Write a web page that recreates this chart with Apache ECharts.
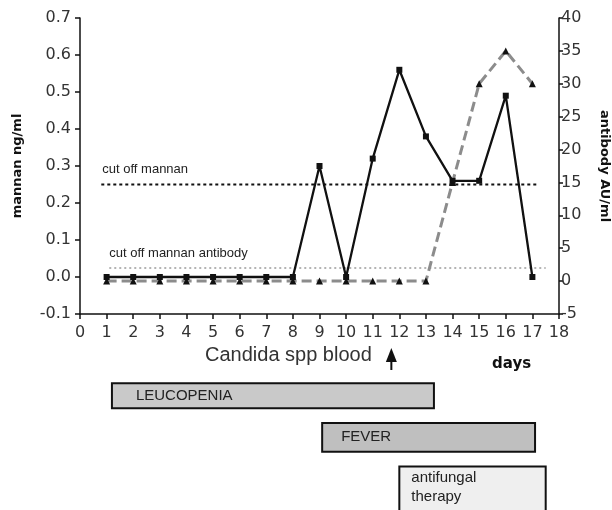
<!DOCTYPE html>
<html><head><meta charset="utf-8">
<script src="https://cdn.jsdelivr.net/npm/echarts@6/dist/echarts.min.js"></script>
<style>html,body{margin:0;padding:0;background:#fff}#c{width:612px;height:510px}</style>
</head><body><div id="c"></div>
<script>
// ---- data ----
var days = [1,2,3,4,5,6,7,8,9,10,11,12,13,14,15,16,17];
var mannan = [0,0,0,0,0,0,0,0,0.30,0.0,0.32,0.56,0.38,0.26,0.26,0.49,0.0];
var antibody = [0,0,0,0,0,0,0,0,0,0,0,0,0,15,30,35,30];
var cutoffMannan = 0.25;
var cutoffMannanSpan = [0.8, 17.2];
var cutoffAntibody = 2;
var cutoffAntibodySpan = [1.1, 17.5];
var bloodCultureDay = 11.7;
var periods = ['LEUCOPENIA', 'FEVER', 'antifungal\ntherapy'];
var periodStart = [1.2, 9.1, 12.0];
var periodEnd = [13.3, 17.1, 17.5];

// ---- styles ----
var FONT = 'Liberation Sans';
var TICKFONT = 'DejaVu Sans';
var BOLD = 'DejaVu Sans';
var rowHalfTop = [0.3, 0.345, 0.3];
var rowHalfBottom = [0.3, 0.345, 1.0];
var periodFill = ['#c9c9c9', '#bfbfbf', '#efefef'];
var textPad = [24, 19, 12];

var chart = echarts.init(document.getElementById('c'), null, {renderer: 'canvas'});

function pair(xs, ys){ return xs.map(function(x, i){ return [x, ys[i]]; }); }

function cutLabel(txt, off){
  return {show: true, position: 'top', align: 'left', offset: off,
          formatter: txt, fontFamily: FONT, fontSize: 13, color: '#222'};
}

var option = {
  animation: false,
  backgroundColor: '#ffffff',
  title: [
    {text: 'Candida spp blood', left: 205, top: 345, padding: 0,
     textStyle: {fontFamily: FONT, fontSize: 20, fontWeight: 'normal', color: '#333'}},
    {text: 'days', left: 492, top: 357, padding: 0,
     textStyle: {fontFamily: BOLD, fontSize: 15, fontWeight: 'bold', color: '#111'}}
  ],
  grid: [
    {left: 80, right: 53, top: 18, bottom: 196, outerBoundsMode: 'none', containLabel: false},
    {left: 80, right: 53, top: 375, bottom: 0, outerBoundsMode: 'none', containLabel: false}
  ],
  xAxis: [
    {type: 'value', gridIndex: 0, min: 0, max: 18, interval: 1,
     axisLine: {onZero: false, lineStyle: {color: '#111', width: 1.5}},
     axisTick: {length: 5, lineStyle: {color: '#111', width: 1.5}},
     axisLabel: {fontFamily: TICKFONT, fontSize: 16, color: '#333', margin: 11},
     splitLine: {show: false}},
    {type: 'value', gridIndex: 1, min: 0, max: 18, show: false}
  ],
  yAxis: [
    {type: 'value', gridIndex: 0, min: -0.1, max: 0.7, interval: 0.1,
     name: 'mannan ng/ml', nameLocation: 'middle', nameRotate: 90, nameGap: 56,
     nameTextStyle: {fontFamily: BOLD, fontSize: 13, fontWeight: 'bold', color: '#111'},
     axisLine: {show: true, lineStyle: {color: '#111', width: 1.5}},
     axisTick: {show: true, length: 5, lineStyle: {color: '#111', width: 1.5}},
     axisLabel: {fontFamily: TICKFONT, fontSize: 16, color: '#333', margin: 9,
       formatter: function(v){ return (Math.round(v*10)/10).toFixed(1); }},
     splitLine: {show: false}},
    {type: 'value', gridIndex: 0, position: 'right', min: -5, max: 40, interval: 5,
     name: 'antibody AU/ml', nameLocation: 'middle', nameRotate: -90, nameGap: 39,
     nameTextStyle: {fontFamily: BOLD, fontSize: 13, fontWeight: 'bold', color: '#111'},
     axisLine: {show: true, lineStyle: {color: '#111', width: 1.5}},
     axisTick: {show: true, length: 4, lineStyle: {color: '#111', width: 1.5}},
     axisLabel: {fontFamily: TICKFONT, fontSize: 16, color: '#333', margin: 2},
     splitLine: {show: false}},
    {type: 'value', gridIndex: 1, min: -0.5, max: 2.75, inverse: true, show: false}
  ],
  series: [
    {name: 'cutoff mannan', type: 'line', xAxisIndex: 0, yAxisIndex: 0, z: 1,
     data: [
       {value: [cutoffMannanSpan[0], cutoffMannan], label: cutLabel('cut off mannan', [1, -3])},
       [cutoffMannanSpan[1], cutoffMannan]
     ],
     symbol: 'circle', symbolSize: 1, showSymbol: true, itemStyle: {color: 'rgba(0,0,0,0)'},
     lineStyle: {color: '#111', width: 2, type: [3, 3]}},
    {name: 'cutoff antibody', type: 'line', xAxisIndex: 0, yAxisIndex: 1, z: 1,
     data: [
       {value: [cutoffAntibodySpan[0], cutoffAntibody], label: cutLabel('cut off mannan antibody', [0, -3])},
       [cutoffAntibodySpan[1], cutoffAntibody]
     ],
     symbol: 'circle', symbolSize: 1, showSymbol: true, itemStyle: {color: 'rgba(0,0,0,0)'},
     lineStyle: {color: '#9a9a9a', width: 1.5, type: [2, 3]}},
    {name: 'antibody', type: 'line', xAxisIndex: 0, yAxisIndex: 1, z: 2,
     data: pair(days, antibody),
     symbol: 'triangle', symbolSize: 7, showAllSymbol: true,
     itemStyle: {color: '#111'},
     lineStyle: {color: '#8c8c8c', width: 3, type: [10, 5]}},
    {name: 'mannan', type: 'line', xAxisIndex: 0, yAxisIndex: 0, z: 3,
     data: pair(days, mannan),
     symbol: 'rect', symbolSize: 6, showAllSymbol: true,
     itemStyle: {color: '#111'},
     lineStyle: {color: '#111', width: 2.3}},
    {name: 'periods', type: 'custom', xAxisIndex: 1, yAxisIndex: 2,
     data: periodStart.map(function(s, i){ return [s, periodEnd[i], i]; }),
     renderItem: function(params, api){
       var i = params.dataIndex;
       var r = api.value(2);
       var p0 = api.coord([api.value(0), r - rowHalfTop[i]]);
       var p1 = api.coord([api.value(1), r + rowHalfBottom[i]]);
       var multi = periods[i].indexOf('\n') >= 0;
       return {type: 'group', children: [
         {type: 'rect', shape: {x: p0[0], y: p0[1], width: p1[0]-p0[0], height: p1[1]-p0[1]},
          style: {fill: periodFill[i], stroke: '#111', lineWidth: 2}},
         {type: 'text', x: p0[0] + textPad[i], y: multi ? p0[1] + 2 : (p0[1]+p1[1])/2,
          style: {text: periods[i], fill: '#222', font: '15px "' + FONT + '"',
                  verticalAlign: multi ? 'top' : 'middle', align: 'left', lineHeight: 19}}
       ]};
     }}
  ]
};
chart.setOption(option);

var ax = chart.convertToPixel({xAxisIndex: 0}, bloodCultureDay);
chart.setOption({graphic: [
  {type: 'polygon', shape: {points: [[ax, 348], [ax-5.5, 362], [ax+5.5, 362]]}, style: {fill: '#111'}},
  {type: 'rect', shape: {x: ax-1, y: 360, width: 2, height: 10}, style: {fill: '#111'}}
]});
</script></body></html>
